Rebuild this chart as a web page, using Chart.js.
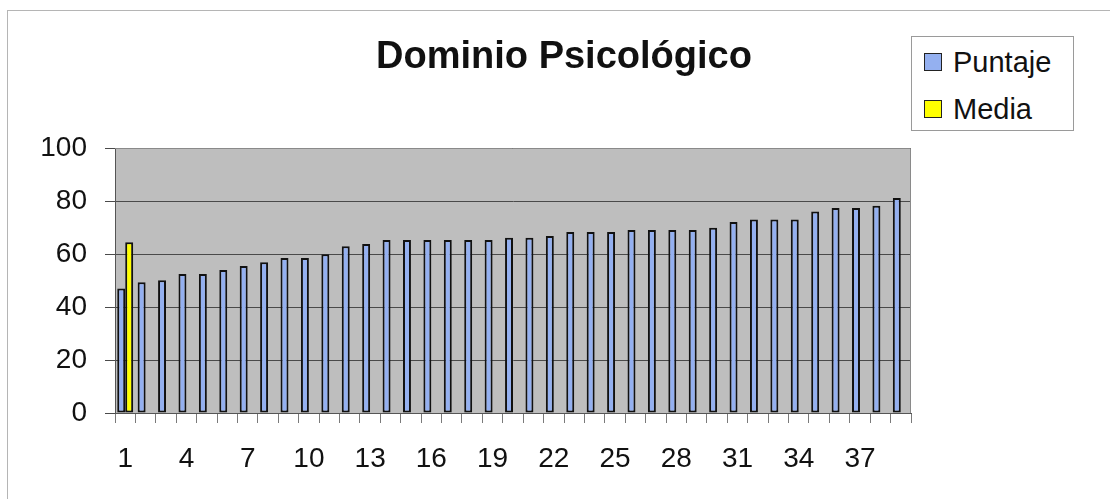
<!DOCTYPE html>
<html>
<head>
<meta charset="utf-8">
<script src="https://cdn.jsdelivr.net/npm/chart.js@4.4.1/dist/chart.umd.min.js"></script>
<style>
  body { margin: 0; background: #fff; font-family: "Liberation Sans", Arial, sans-serif; }
  #wrap { position: relative; width: 1110px; height: 499px; overflow: hidden; }
  #frame { position: absolute; left: 7px; top: 10px; width: 1120px; height: 520px; border: 1px solid #b5b5b5; }
  #title { position: absolute; left: 0; top: 36px; width: 1128px; text-align: center;
           font-weight: bold; font-size: 38px; line-height: 38px; color: #111; white-space: nowrap; }
  #legend { position: absolute; left: 911px; top: 36px; width: 161px; height: 93px; border: 1px solid #9a9a9a; background: #fff; }
  .item { position: absolute; left: 41px; font-size: 29px; line-height: 29px; color: #111; white-space: nowrap; }
  .sw { position: absolute; left: 12px; width: 16px; height: 16px; border: 1.5px solid #222; }
  #chartBox { position: absolute; left: 0; top: 0; width: 1110px; height: 499px; }
</style>
</head>
<body>
<div id="wrap">
  <div id="frame"></div>
  <div id="chartBox"><canvas id="barChart"></canvas></div>
  <div id="title">Dominio Psicológico</div>
  <div id="legend">
    <div class="sw" style="top:16px;background:#94b0f0"></div>
    <div class="item" style="top:11px">Puntaje</div>
    <div class="sw" style="top:63px;background:#ffff00"></div>
    <div class="item" style="top:58px">Media</div>
  </div>
</div>
<script>
const categories = ['1','2','3','4','5','6','7','8','9','10','11','12','13','14','15','16','17','18','19','20',
  '21','22','23','24','25','26','27','28','29','30','31','32','33','34','35','36','37','38','39'];
const puntaje = [47.0, 49.3, 50.1, 52.5, 52.5, 54.0, 55.5, 56.9, 58.5, 58.5, 59.9, 62.9, 63.8,
  65.3, 65.3, 65.3, 65.3, 65.3, 65.3, 66.1, 66.1, 66.8, 68.3, 68.3, 68.3, 69.1, 69.1, 69.1, 69.1,
  69.9, 72.1, 73.0, 73.0, 73.0, 76.0, 77.4, 77.4, 78.2, 81.1];
// the mean only sits in the first category
const media = [64.4];
const yTicks = [0, 20, 40, 60, 80, 100];

// gray plot area + frame like the old spreadsheet chart
const plotBg = {
  id: 'plotBg',
  beforeDraw(chart) {
    const a = chart.chartArea, ctx = chart.ctx;
    ctx.save();
    ctx.fillStyle = '#bebebe';
    ctx.fillRect(a.left, a.top, a.right - a.left, a.bottom - a.top);
    ctx.restore();
  },
  afterDraw(chart) {
    const a = chart.chartArea, ctx = chart.ctx;
    ctx.save();
    ctx.strokeStyle = '#8a8a8a';
    ctx.lineWidth = 1;
    ctx.beginPath();
    ctx.moveTo(a.left, a.top + 0.5);
    ctx.lineTo(a.right - 0.5, a.top + 0.5);
    ctx.lineTo(a.right - 0.5, a.bottom);
    ctx.stroke();
    ctx.restore();
  }
};

const ctx = document.getElementById('barChart').getContext('2d');
new Chart(ctx, {
  type: 'bar',
  data: {
    labels: categories,
    datasets: [
      { label: 'Puntaje', data: puntaje, backgroundColor: '#94b0f0', borderColor: '#111', borderWidth: 2, borderSkipped: false },
      { label: 'Media', data: media, backgroundColor: '#ffff00', borderColor: '#111', borderWidth: 2, borderSkipped: false }
    ]
  },
  options: {
    responsive: true,
    maintainAspectRatio: false,
    animation: false,
    layout: { padding: { top: 148, right: 199, bottom: 0, left: 0 } },
    plugins: { legend: { display: false }, title: { display: false }, tooltip: { enabled: false } },
    datasets: { bar: { categoryPercentage: 0.78, barPercentage: 1 } },
    scales: {
      x: {
        afterFit: s => { s.height = 86; },
        grid: { drawOnChartArea: false, tickLength: 10, color: '#7a7a7a', offset: true },
        border: { color: '#555' },
        ticks: {
          autoSkip: false, maxRotation: 0, padding: 19, color: '#111',
          font: { family: 'Liberation Sans', size: 28 },
          callback: (v, i) => i % 3 === 0 ? categories[i] : ''
        }
      },
      y: {
        min: 0, max: 100,
        afterFit: s => { s.width = 115; },
        afterBuildTicks: s => { s.ticks = yTicks.map(v => ({ value: v })); },
        grid: { color: '#4a4a4a', tickLength: 10, lineWidth: 1 },
        border: { color: '#555' },
        ticks: { padding: 18, color: '#111', font: { family: 'Liberation Sans', size: 28 } }
      }
    }
  },
  plugins: [plotBg]
});
</script>
</body>
</html>
